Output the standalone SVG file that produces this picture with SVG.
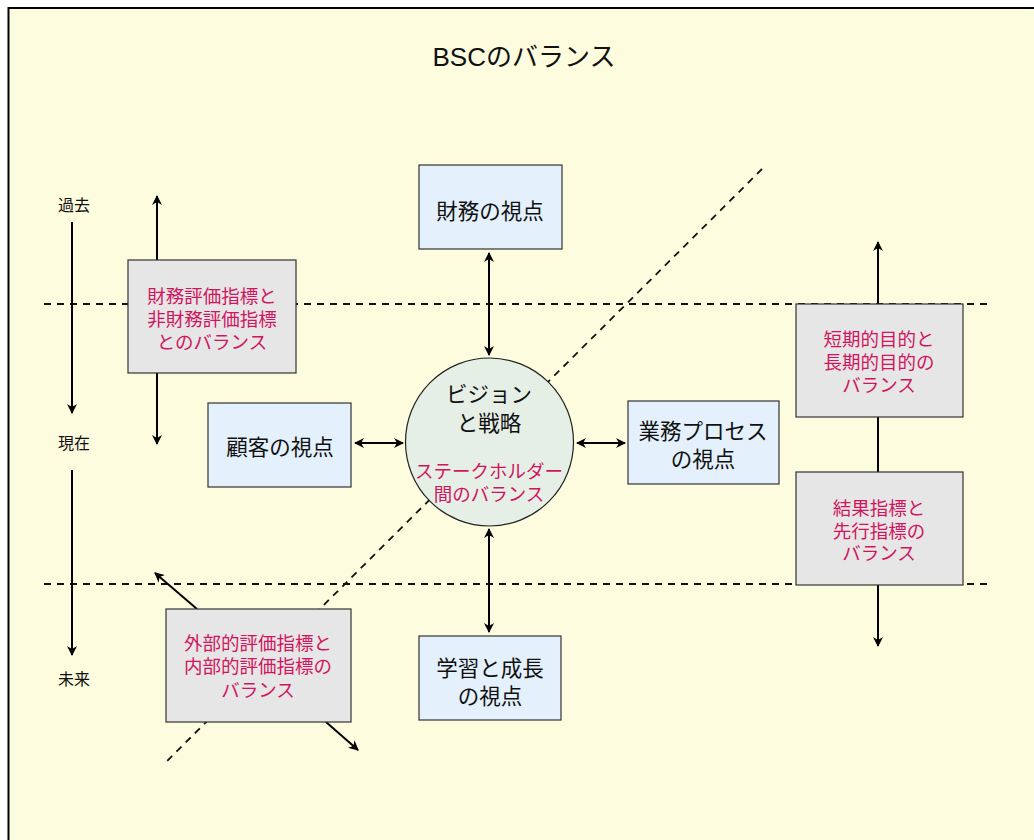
<svg xmlns="http://www.w3.org/2000/svg" width="1034" height="840" viewBox="0 0 1034 840">
<style>
text{font-family:"Noto Sans CJK JP","Noto Sans",sans-serif;text-anchor:middle;dominant-baseline:central}
.title{font-family:"Liberation Sans","Noto Sans CJK JP",sans-serif;font-size:26px;fill:#111}
.node{font-size:21.5px;fill:#111}
.pink{font-size:18.5px;fill:#D0155F}
.side{font-size:16px;fill:#111}
.blue{fill:#E4F1FC;stroke:#333;stroke-width:1.2}
.gray{fill:#E6E6E6;stroke:#333;stroke-width:1.2}
.dash{stroke:#111;stroke-width:1.8;stroke-dasharray:7 6;fill:none}
.arr{stroke:#000;stroke-width:2;fill:none}
</style>
<defs>
<marker id="ah" viewBox="0 0 10 10" refX="9" refY="5" markerWidth="10" markerHeight="10" markerUnits="userSpaceOnUse" orient="auto-start-reverse">
<path d="M0,0 L10,5 L0,10 L3,5 Z" fill="#000"/>
</marker>
</defs>
<rect x="8.5" y="8" width="1100" height="900" fill="#FEFCDE" stroke="#000" stroke-width="2"/>
<text class="title" x="524" y="57">BSCのバランス</text>
<g id="guides">
<line class="dash" x1="44" y1="304" x2="990" y2="304"/>
<line class="dash" x1="44" y1="584" x2="990" y2="584"/>
<line class="dash" x1="762" y1="169" x2="166" y2="762"/>
</g>
<g id="connectors">
<line class="arr" x1="489" y1="253" x2="489" y2="355" marker-start="url(#ah)" marker-end="url(#ah)"/>
<line class="arr" x1="489" y1="529" x2="489" y2="632" marker-start="url(#ah)" marker-end="url(#ah)"/>
<line class="arr" x1="355" y1="443" x2="403" y2="443" marker-start="url(#ah)" marker-end="url(#ah)"/>
<line class="arr" x1="577" y1="443" x2="625" y2="443" marker-start="url(#ah)" marker-end="url(#ah)"/>
<line class="arr" x1="72" y1="222" x2="72" y2="413" marker-end="url(#ah)"/>
<line class="arr" x1="72" y1="470" x2="72" y2="655" marker-end="url(#ah)"/>
<line class="arr" x1="157" y1="260" x2="157" y2="196" marker-end="url(#ah)"/>
<line class="arr" x1="157" y1="373" x2="157" y2="444" marker-end="url(#ah)"/>
<line class="arr" x1="878" y1="304" x2="878" y2="242" marker-end="url(#ah)"/>
<line class="arr" x1="878" y1="417" x2="878" y2="472"/>
<line class="arr" x1="878" y1="585" x2="878" y2="646" marker-end="url(#ah)"/>
<line class="arr" x1="197" y1="609" x2="155" y2="573" marker-end="url(#ah)"/>
<line class="arr" x1="326" y1="722" x2="358" y2="750" marker-end="url(#ah)"/>
</g>
<g id="side-labels">
<text class="side" x="74" y="204">過去</text>
<text class="side" x="74" y="442">現在</text>
<text class="side" x="74" y="678">未来</text>
</g>
<g id="financial">
<rect class="blue" x="419" y="165" width="143" height="84"/>
<text class="node" x="490" y="209">財務の視点</text>
</g>
<g id="customer">
<rect class="blue" x="208" y="403" width="143" height="84"/>
<text class="node" x="280" y="445">顧客の視点</text>
</g>
<g id="process">
<rect class="blue" x="628" y="401" width="151" height="83"/>
<text class="node" x="703" y="429">業務プロセス</text>
<text class="node" x="703" y="457">の視点</text>
</g>
<g id="learning">
<rect class="blue" x="419" y="636" width="142" height="84"/>
<text class="node" x="490" y="666">学習と成長</text>
<text class="node" x="490" y="694">の視点</text>
</g>
<g id="vision">
<circle cx="489.5" cy="442" r="84" fill="#E6EFE6" stroke="#222" stroke-width="1.2"/>
<text class="node" x="489" y="392">ビジョン</text>
<text class="node" x="489" y="421">と戦略</text>
<text class="pink" x="489" y="470">ステークホルダー</text>
<text class="pink" x="489" y="493">間のバランス</text>
</g>
<g id="fin-nonfin">
<rect class="gray" x="128" y="260" width="168" height="113"/>
<text class="pink" x="212" y="295">財務評価指標と</text>
<text class="pink" x="212" y="318">非財務評価指標</text>
<text class="pink" x="212" y="341">とのバランス</text>
</g>
<g id="short-long">
<rect class="gray" x="796" y="304" width="167" height="113"/>
<text class="pink" x="879" y="338">短期的目的と</text>
<text class="pink" x="879" y="361">長期的目的の</text>
<text class="pink" x="879" y="384">バランス</text>
</g>
<g id="result-lead">
<rect class="gray" x="796" y="472" width="167" height="113"/>
<text class="pink" x="879" y="507">結果指標と</text>
<text class="pink" x="879" y="530">先行指標の</text>
<text class="pink" x="879" y="552">バランス</text>
</g>
<g id="ext-int">
<rect class="gray" x="166" y="609" width="185" height="113"/>
<text class="pink" x="258" y="642">外部的評価指標と</text>
<text class="pink" x="258" y="665">内部的評価指標の</text>
<text class="pink" x="258" y="689">バランス</text>
</g>
</svg>
